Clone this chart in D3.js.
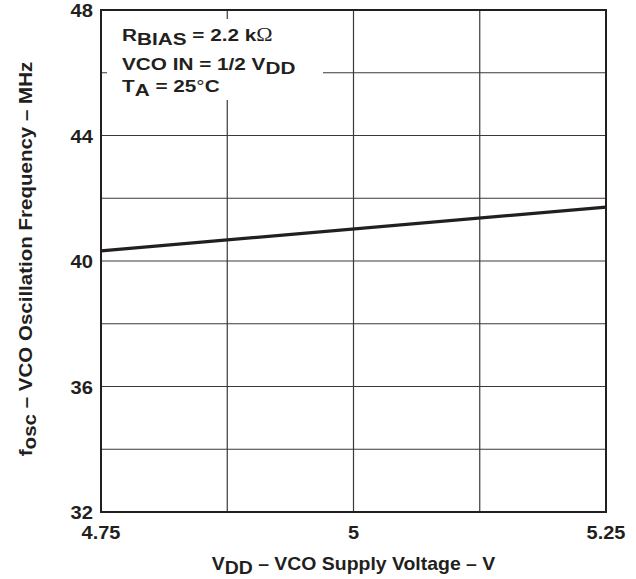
<!DOCTYPE html>
<html>
<head>
<meta charset="utf-8">
<script src="https://cdn.jsdelivr.net/npm/d3@7"></script>
<style>
body{margin:0;background:#fff;}
text{font-family:"Liberation Sans",Arial,sans-serif;font-weight:bold;fill:#231f20;}
</style>
</head>
<body>
<div id="chart"></div>
<script>
// data
var vdd=[4.75,5.25];
var fosc=[40.32,41.72];
var xTicks=[4.75,5,5.25];
var xGrid=[4.875,5,5.125];
var yTicks=[32,36,40,44,48];
var yGrid=[34,36,38,40,42,44,46];

var margin={top:10,right:30,bottom:67,left:101};
var W=636,H=579;
var width=W-margin.left-margin.right,height=H-margin.top-margin.bottom;

var svg=d3.select('#chart').append('svg')
	.attr('width',W).attr('height',H)
	.append('g')
	.attr('transform','translate('+margin.left+','+margin.top+')');

var x=d3.scaleLinear().domain([4.75,5.25]).range([0,width]);
var y=d3.scaleLinear().domain([32,48]).range([height,0]);

// the source lettering is a little wider than Arial, so stretch it sideways
function place(px,py,sx){return 'translate('+px+','+py+') scale('+sx+',1)';}

//grid
svg.selectAll('.vg').data(xGrid).enter().append('line')
	.attr('x1',function(d){return x(d)}).attr('x2',function(d){return x(d)})
	.attr('y1',0).attr('y2',height)
	.attr('stroke','#3a3a3a').attr('stroke-width',1.2);
svg.selectAll('.hg').data(yGrid).enter().append('line')
	.attr('y1',function(d){return y(d)}).attr('y2',function(d){return y(d)})
	.attr('x1',0).attr('x2',width)
	.attr('stroke','#3a3a3a').attr('stroke-width',1.2);

//legend box covers the grid
svg.append('rect').attr('x',6).attr('y',9).attr('width',216).attr('height',81).attr('fill','#fff');

var lg=svg.append('g').attr('font-size',17);
var t1=lg.append('text').attr('transform',place(21,31,1.22));
t1.append('tspan').text('R');
t1.append('tspan').attr('dy',4).text('BIAS');
t1.append('tspan').attr('dy',-4).text(' = 2.2 k');
t1.append('tspan').attr('font-family','Liberation Serif').attr('font-weight','normal').attr('font-size',18).text('Ω');
var t2=lg.append('text').attr('transform',place(21,60,1.22));
t2.append('tspan').text('VCO IN = 1/2 V');
t2.append('tspan').attr('dy',4).text('DD');
var t3=lg.append('text').attr('transform',place(21,82,1.22));
t3.append('tspan').text('T');
t3.append('tspan').attr('dy',4).text('A');
t3.append('tspan').attr('dy',-4).text(' = 25');
t3.append('tspan').attr('font-weight','normal').text('°');
t3.append('tspan').text('C');

//curve
var line=d3.line().x(function(d,i){return x(vdd[i])}).y(function(d){return y(d)});
svg.append('path').datum(fosc).attr('d',line)
	.attr('fill','none').attr('stroke','#231f20').attr('stroke-width',3.2);

//frame
svg.append('rect').attr('x',0).attr('y',0).attr('width',width).attr('height',height)
	.attr('fill','none').attr('stroke','#231f20').attr('stroke-width',2);

//tick labels
svg.selectAll('.yl').data(yTicks).enter().append('text')
	.attr('transform',function(d){return place(-8,y(d)+7,1.12)})
	.attr('text-anchor','end').attr('font-size',18)
	.text(function(d){return d});
svg.selectAll('.xl').data(xTicks).enter().append('text')
	.attr('transform',function(d){return place(x(d),height+27,1.08)})
	.attr('text-anchor','middle').attr('font-size',18.5)
	.text(function(d){return d});

//axis titles
var xt=svg.append('text').attr('transform',place(width/2,height+58,1.08))
	.attr('text-anchor','middle').attr('font-size',18);
xt.append('tspan').text('V');
xt.append('tspan').attr('dy',4).text('DD');
xt.append('tspan').attr('dy',-4).text(' – VCO Supply Voltage – V');

var yt=svg.append('text').attr('transform','translate(-69,'+(height/2-2)+') rotate(-90) scale(1.14,1)')
	.attr('text-anchor','middle').attr('font-size',18);
yt.append('tspan').text('f');
yt.append('tspan').attr('dy',4).text('osc');
yt.append('tspan').attr('dy',-4).text(' – VCO Oscillation Frequency – MHz');
</script>
</body>
</html>
